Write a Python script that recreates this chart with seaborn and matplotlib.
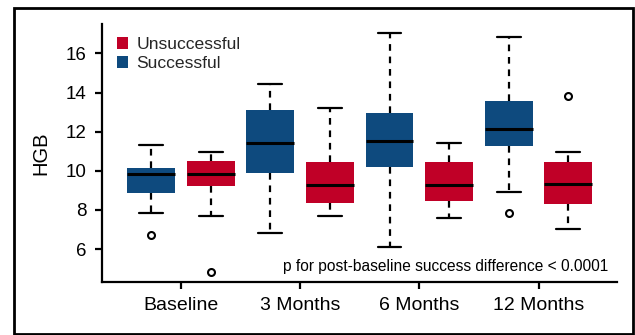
import matplotlib
matplotlib.use("Agg")
import matplotlib.pyplot as plt
import seaborn as sns
from matplotlib.patches import Patch, Rectangle

# Time points on the x axis and the two outcome groups
timepoints = ["Baseline", "3 Months", "6 Months", "12 Months"]
group_names = ["Unsuccessful", "Successful"]

# HGB box summaries per time point: whisker low, Q1, median, Q3, whisker high, outliers
succ_low = [7.84, 6.82, 6.12, 8.91]
succ_q1 = [8.88, 9.90, 10.17, 11.28]
succ_med = [9.83, 11.40, 11.52, 12.12]
succ_q3 = [10.12, 13.10, 12.93, 13.56]
succ_high = [11.31, 14.43, 17.04, 16.83]
succ_out = [[6.70], [], [], [7.82]]

unsucc_low = [7.70, 7.70, 7.58, 7.01]
unsucc_q1 = [9.23, 8.37, 8.47, 8.31]
unsucc_med = [9.83, 9.25, 9.25, 9.31]
unsucc_q3 = [10.50, 10.43, 10.43, 10.43]
unsucc_high = [10.97, 13.22, 11.42, 10.94]
unsucc_out = [[4.84], [], [], [13.80]]

y_ticks = [6, 8, 10, 12, 14, 16]
note = "p for post-baseline success difference < 0.0001"

RED = "#C00027"
BLUE = "#0E4A7E"

sns.set_theme(style="ticks")
plt.rcParams["font.family"] = ["Liberation Sans", "DejaVu Sans"]


def summaries(low, q1, med, q3, high, out):
    return [
        dict(whislo=a, q1=b, med=c, q3=d, whishi=e, fliers=f)
        for a, b, c, d, e, f in zip(low, q1, med, q3, high, out)
    ]


fig = plt.figure(figsize=(6.35, 3.35), dpi=100)
ax = fig.add_axes([0.160, 0.158, 0.812, 0.770])

common = dict(
    widths=0.4,
    capwidths=0.2,
    patch_artist=True,
    showfliers=True,
    medianprops=dict(color="black", linewidth=2.2, solid_capstyle="butt"),
    whiskerprops=dict(color="black", linewidth=1.6, linestyle=(0, (3, 2.6))),
    capprops=dict(color="black", linewidth=1.6),
    flierprops=dict(marker="o", markerfacecolor="white", markeredgecolor="black",
                    markersize=5, markeredgewidth=1.5),
)

pos = list(range(len(timepoints)))
for stats, offset, color in [
    (summaries(succ_low, succ_q1, succ_med, succ_q3, succ_high, succ_out), -0.25, BLUE),
    (summaries(unsucc_low, unsucc_q1, unsucc_med, unsucc_q3, unsucc_high, unsucc_out), 0.25, RED),
]:
    ax.bxp(stats, positions=[p + offset for p in pos],
           boxprops=dict(facecolor=color, edgecolor="none", linewidth=0), **common)

ax.set_xticks(pos)
ax.set_xticklabels(timepoints, fontsize=14)
ax.set_yticks(y_ticks)
ax.set_yticklabels([str(t) for t in y_ticks], fontsize=13.5)
ax.set_xlim(-0.665, 3.66)
ax.set_ylim(4.31, 17.5)

sns.despine(ax=ax)
for side in ["left", "bottom"]:
    ax.spines[side].set_linewidth(1.6)
    ax.spines[side].set_color("black")
ax.tick_params(axis="both", width=1.6, length=4.8, color="black", labelcolor="black")
ax.tick_params(axis="x", pad=6)
ax.tick_params(axis="y", pad=6)

ax.set_ylabel("HGB", fontsize=14.5, family=["Liberation Sans Narrow", "Liberation Sans"],
              color="black")
ax.yaxis.set_label_coords(-0.100, 0.5)

ax.text(0.9825, 0.041, note, transform=ax.transAxes, ha="right", va="baseline",
        fontsize=11.2, color="black")

handles = [Patch(facecolor=RED, edgecolor="none"), Patch(facecolor=BLUE, edgecolor="none")]
ax.legend(handles, group_names, loc="upper left", bbox_to_anchor=(0.029, 0.952),
          frameon=False, fontsize=12.6, handlelength=0.68, handleheight=0.68,
          handletextpad=0.45, labelspacing=0.26, borderpad=0, borderaxespad=0)

# Frame around the whole figure
fig.patches.append(Rectangle((14.3 / 635, 1 - 333.8 / 335), (633.3 - 14.3) / 635,
                             (333.8 - 7.7) / 335, transform=fig.transFigure,
                             fill=False, edgecolor="black", linewidth=2.0))

fig.savefig("out.png", dpi=100)
